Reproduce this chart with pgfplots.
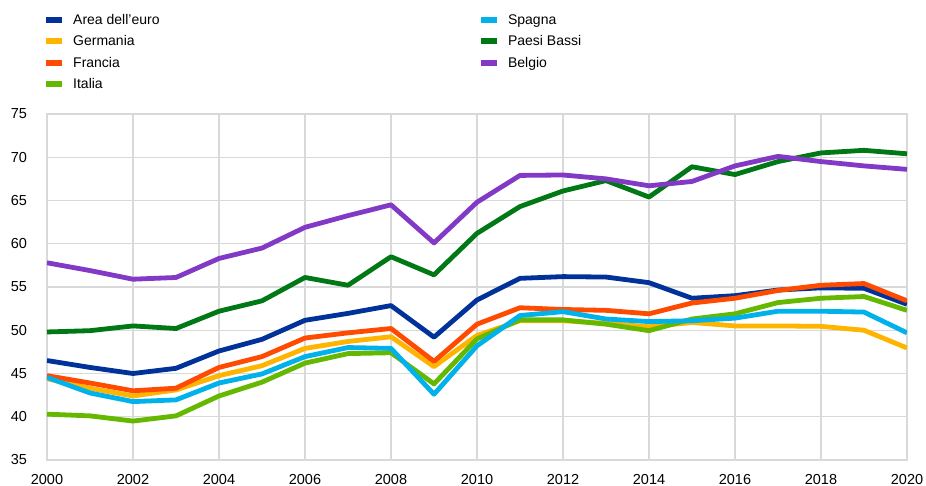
\documentclass[border=0pt]{standalone}
\usepackage{pgfplots}
\pgfplotsset{compat=1.18}
\usepackage{fontspec}
\setmainfont{Liberation Sans}
\definecolor{cArea}{HTML}{003299}
\definecolor{cGer}{HTML}{FFB400}
\definecolor{cFra}{HTML}{FF4B00}
\definecolor{cIta}{HTML}{65B800}
\definecolor{cSpa}{HTML}{00B1EA}
\definecolor{cNed}{HTML}{007816}
\definecolor{cBel}{HTML}{8139C6}
\definecolor{gridc}{HTML}{D9D9D9}
\pgfplotstableread{
year area ger fra ita spa ned bel
2000 46.5 44.4 44.75 40.3 44.55 49.8 57.8
2001 45.7 43.3 43.9 40.1 42.75 49.95 56.9
2002 45.0 42.4 43.0 39.5 41.75 50.5 55.9
2003 45.6 43.1 43.3 40.1 41.95 50.2 56.1
2004 47.6 44.75 45.7 42.4 43.9 52.2 58.3
2005 48.95 45.9 46.95 44.0 44.95 53.4 59.5
2006 51.15 47.9 49.1 46.2 46.95 56.1 61.9
2007 51.95 48.7 49.7 47.3 48.0 55.2 63.25
2008 52.85 49.25 50.2 47.4 47.9 58.5 64.5
2009 49.2 45.8 46.4 43.8 42.6 56.4 60.1
2010 53.5 49.4 50.7 49.0 48.2 61.2 64.8
2011 56.0 51.1 52.6 51.2 51.7 64.3 67.9
2012 56.2 51.1 52.4 51.2 52.15 66.1 67.95
2013 56.15 50.8 52.3 50.7 51.3 67.3 67.5
2014 55.5 50.4 51.9 49.95 51.0 65.4 66.7
2015 53.7 50.9 53.15 51.3 51.1 68.9 67.2
2016 54.0 50.5 53.7 51.9 51.4 68.0 69.0
2017 54.65 50.5 54.6 53.2 52.2 69.5 70.1
2018 54.9 50.45 55.2 53.7 52.2 70.5 69.5
2019 54.85 50.0 55.4 53.9 52.1 70.8 69.0
2020 53.0 47.95 53.4 52.3 49.7 70.4 68.6
}\datatable
\begin{document}
\begin{tikzpicture}
\begin{axis}[
  scale only axis,
  width=860pt, height=346pt,
  xmin=2000, xmax=2020, ymin=35, ymax=75,
  xtick={2000,2002,...,2020},
  ytick={35,40,...,75},
  grid=major,
  major grid style={gridc, line width=1.2pt},
  axis line style={gridc, line width=1.2pt},
  major tick length=0pt,
  /pgf/number format/assume math mode=true,
  /pgf/number format/1000 sep={},
  ticklabel style={font=\fontsize{14.5}{16}\selectfont, text=black},
  yticklabel style={xshift=-16.5pt},
  xticklabel style={yshift=-11pt},
  legend columns=2,
  legend cell align=left,
  legend style={draw=none, fill=none, at={(0,1)}, anchor=north west,
    xshift=-7.5pt, yshift=104pt, font=\fontsize{14}{16}\selectfont,
    row sep=5.7pt,
    /tikz/every even column/.append style={column sep=316pt}},
  legend image code/.code={\draw[#1, line width=6pt, line cap=butt] (0pt,0pt) -- (16pt,0pt); \path[draw=none] (0pt,0pt) -- (25.5pt,0pt);},
  every axis plot/.append style={line width=4.8pt, line join=round},
]
\addplot[cArea, forget plot] table[x=year, y=area] {\datatable};
\addplot[cGer, forget plot] table[x=year, y=ger] {\datatable};
\addplot[cFra, forget plot] table[x=year, y=fra] {\datatable};
\addplot[cIta, forget plot] table[x=year, y=ita] {\datatable};
\addplot[cSpa, forget plot] table[x=year, y=spa] {\datatable};
\addplot[cNed, forget plot] table[x=year, y=ned] {\datatable};
\addplot[cBel, forget plot] table[x=year, y=bel] {\datatable};
\addlegendimage{cArea}\addlegendentry{Area dell’euro}
\addlegendimage{cSpa}\addlegendentry{Spagna}
\addlegendimage{cGer}\addlegendentry{Germania}
\addlegendimage{cNed}\addlegendentry{Paesi Bassi}
\addlegendimage{cFra}\addlegendentry{Francia}
\addlegendimage{cBel}\addlegendentry{Belgio}
\addlegendimage{cIta}\addlegendentry{Italia}
\end{axis}
\pgfresetboundingbox
\path (current axis.south west) ++(-47pt,-26pt) coordinate (bl);
\path (current axis.north east) ++(19pt,114pt) coordinate (tr);
\path[use as bounding box] (bl) rectangle (tr);
\end{tikzpicture}
\end{document}
